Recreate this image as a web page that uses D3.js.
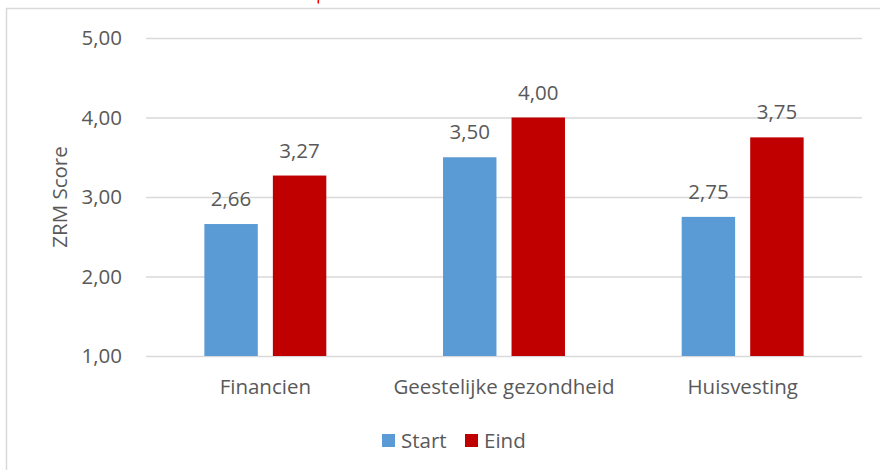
<!DOCTYPE html>
<html>
<head>
<meta charset="utf-8">
<script src="https://cdn.jsdelivr.net/npm/d3@7"></script>
<style>
  html, body { margin: 0; padding: 0; background: #fff; }
  svg { display: block; }
  text { font-family: "Open Sans", "Liberation Sans", sans-serif; fill: #595959; }
</style>
</head>
<body>
<svg id="chart" width="880" height="470"></svg>
<script>
const categories = ["Financien", "Geestelijke gezondheid", "Huisvesting"];
const seriesNames = ["Start", "Eind"];
const startValues = [2.66, 3.50, 2.75];
const eindValues = [3.27, 4.00, 3.75];
const yTicks = [1, 2, 3, 4, 5];
const colors = ["#5b9bd5", "#c00000"];

const svg = d3.select("#chart");
const FS = 20.5;
const plot = { left: 146, right: 862, top: 38, bottom: 356 };
const fmt = v => d3.format(".2f")(v).replace(".", ",");

// outer border (chart area frame, partially cut)
svg.append("path")
  .attr("d", `M6.5,470 V8.5 H880`)
  .attr("fill", "none").attr("stroke", "#d9d9d9").attr("stroke-width", 1.5);

// cut-off title fragment
svg.append("rect").attr("x", 317.5).attr("y", 0).attr("width", 1.6).attr("height", 3.5).attr("fill", "#ff0000");

const y = d3.scaleLinear().domain([1, 5]).range([plot.bottom, plot.top]);
const x0 = d3.scaleBand().domain(categories).range([plot.left, plot.right]).paddingInner(0.489).paddingOuter(0.2445);
const x1 = d3.scaleBand().domain(seriesNames).range([0, x0.bandwidth()]).paddingInner(0.22);

// gridlines
const yAxis = d3.axisLeft(y).tickValues(yTicks).tickFormat(fmt).tickSize(-(plot.right - plot.left)).tickPadding(24);
const ga = svg.append("g").attr("transform", `translate(${plot.left},0)`).call(yAxis);
ga.select(".domain").remove();
ga.selectAll(".tick line").attr("stroke", "#d9d9d9").attr("stroke-width", 1.3);
ga.selectAll(".tick text").attr("font-size", FS).style("fill", "#595959")
  .style("font-family", '"Open Sans", sans-serif');

// y axis title
svg.append("text")
  .attr("transform", `translate(67,${(plot.top + plot.bottom) / 2}) rotate(-90)`)
  .attr("text-anchor", "middle").attr("font-size", FS)
  .text("ZRM Score");

const data = categories.map((c, i) => ({ cat: c, vals: [
  { s: "Start", v: startValues[i] }, { s: "Eind", v: eindValues[i] } ] }));

const groups = svg.append("g").selectAll("g").data(data).join("g")
  .attr("transform", d => `translate(${x0(d.cat)},0)`);

groups.selectAll("rect").data(d => d.vals).join("rect")
  .attr("x", d => x1(d.s)).attr("width", x1.bandwidth())
  .attr("y", d => y(d.v)).attr("height", d => y(1) - y(d.v))
  .attr("fill", (d, i) => colors[i]);

groups.selectAll("text.val").data(d => d.vals).join("text")
  .attr("class", "val")
  .attr("x", d => x1(d.s) + x1.bandwidth() / 2)
  .attr("y", d => y(d.v) - 18)
  .attr("text-anchor", "middle").attr("font-size", FS)
  .text(d => fmt(d.v));

// x axis labels
const xAxis = d3.axisBottom(x0).tickSize(0).tickPadding(0);
const gx = svg.append("g").attr("transform", `translate(0,${plot.bottom})`).call(xAxis);
gx.select(".domain").remove();
gx.selectAll(".tick text").attr("font-size", FS).attr("dy", 0).attr("y", 38)
  .style("fill", "#595959").style("font-family", '"Open Sans", sans-serif');

// legend
const legend = svg.append("g");
const legendItems = [{ name: "Start", x: 382 }, { name: "Eind", x: 465 }];
legendItems.forEach((it, i) => {
  legend.append("rect").attr("x", it.x).attr("y", 434).attr("width", 13).attr("height", 13).attr("fill", colors[i]);
  legend.append("text").attr("x", it.x + 19).attr("y", 448).attr("font-size", FS).text(it.name);
});
</script>
</body>
</html>
